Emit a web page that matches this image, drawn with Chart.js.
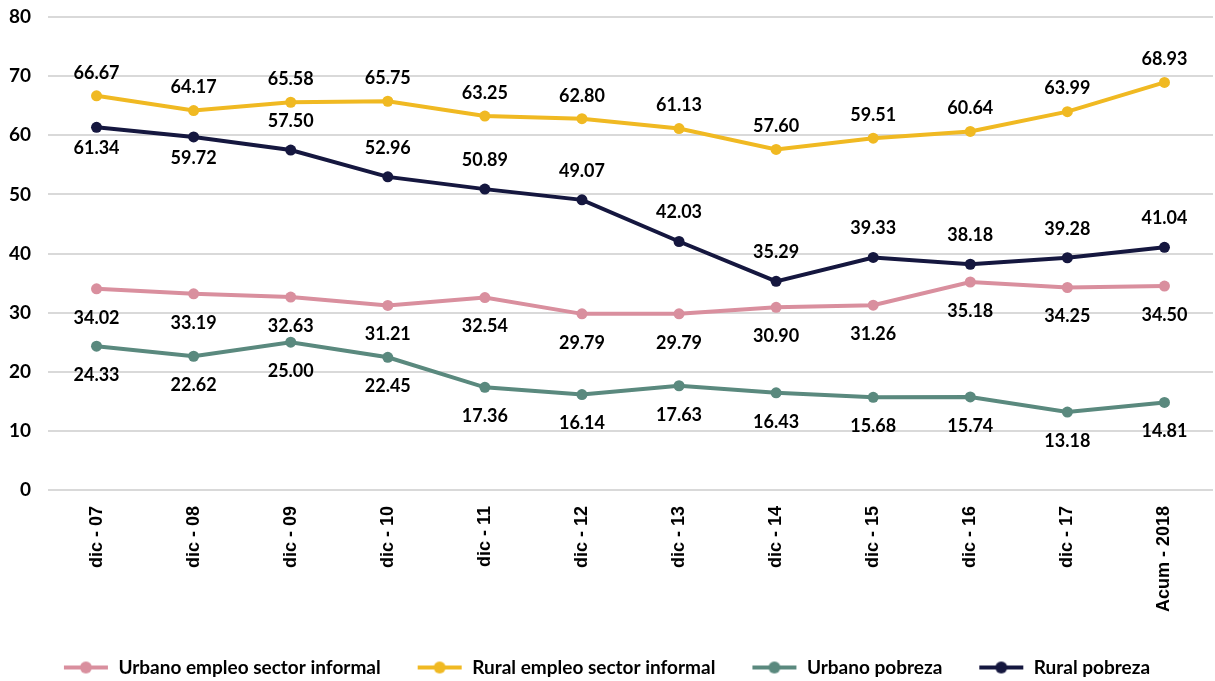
<!DOCTYPE html>
<html>
<head>
<meta charset="utf-8">
<script src="https://cdn.jsdelivr.net/npm/chart.js@4/dist/chart.umd.min.js"></script>
<style>
  html, body { margin: 0; padding: 0; background: #fff; }
  .grafico { width: 1215px; height: 681px; }
</style>
</head>
<body>
<div class="grafico"><canvas id="myChart"></canvas></div>
<script>
const categorias = ["dic - 07", "dic - 08", "dic - 09", "dic - 10", "dic - 11", "dic - 12", "dic - 13", "dic - 14", "dic - 15", "dic - 16", "dic - 17", "Acum - 2018"]
const urbanoEmpleo = [34.02, 33.19, 32.63, 31.21, 32.54, 29.79, 29.79, 30.90, 31.26, 35.18, 34.25, 34.50]
const ruralEmpleo = [66.67, 64.17, 65.58, 65.75, 63.25, 62.80, 61.13, 57.60, 59.51, 60.64, 63.99, 68.93]
const urbanoPobreza = [24.33, 22.62, 25.00, 22.45, 17.36, 16.14, 17.63, 16.43, 15.68, 15.74, 13.18, 14.81]
const ruralPobreza = [61.34, 59.72, 57.50, 52.96, 50.89, 49.07, 42.03, 35.29, 39.33, 38.18, 39.28, 41.04]
const ticksY = [0, 10, 20, 30, 40, 50, 60, 70, 80]

const fuente = "Lato, 'Open Sans', sans-serif"

// marcador de leyenda: linea con punto en el centro
function marcador(color) {
    const c = document.createElement("canvas")
    c.width = 46
    c.height = 14
    const ctx = c.getContext("2d")
    ctx.strokeStyle = color
    ctx.lineWidth = 4
    ctx.beginPath()
    ctx.moveTo(1, 7)
    ctx.lineTo(45, 7)
    ctx.stroke()
    ctx.fillStyle = color
    ctx.beginPath()
    ctx.arc(23, 7, 6, 0, Math.PI * 2)
    ctx.fill()
    return c
}

function serie(label, data, color, posicion) {
    return {
        label,
        data,
        borderColor: color,
        backgroundColor: color,
        borderWidth: 4,
        pointRadius: 5.5,
        pointHoverRadius: 5.5,
        pointBorderWidth: 0,
        tension: 0,
        posicion,
        pointStyle: "circle",
        marcador: marcador(color)
    }
}

// etiquetas de datos (arriba / abajo del punto)
const etiquetas = {
    id: "etiquetas",
    afterDatasetsDraw(chart) {
        const ctx = chart.ctx
        ctx.save()
        ctx.font = "bold 18px " + fuente
        ctx.fillStyle = "#000"
        ctx.textAlign = "center"
        ctx.textBaseline = "middle"
        chart.data.datasets.forEach((ds, i) => {
            const meta = chart.getDatasetMeta(i)
            meta.data.forEach((p, j) => {
                const off = ds.posicion(j)
                ctx.fillText(ds.data[j].toFixed(2), p.x, p.y + off)
            })
        })
        ctx.restore()
    }
}

const datasets = [
    serie("Urbano empleo sector informal", urbanoEmpleo, "#D98F9E", () => 29),
    serie("Rural empleo sector informal", ruralEmpleo, "#F0B922", () => -23),
    serie("Urbano pobreza", urbanoPobreza, "#5A897E", () => 29),
    serie("Rural pobreza", ruralPobreza, "#15173F", (j) => (j < 2 ? 21 : -29))
]

const config = {
    type: "line",
    data: { labels: categorias, datasets },
    plugins: [etiquetas],
    options: {
        responsive: true,
        maintainAspectRatio: false,
        animation: false,
        events: [],
        layout: { autoPadding: false, padding: { top: 17, right: 2, left: 0, bottom: -6 } },
        scales: {
            x: {
                offset: true,
                grid: { display: false, offset: true },
                border: { display: false },
                ticks: {
                    color: "#000",
                    font: { family: "'Liberation Sans', Arial, sans-serif", size: 18, weight: "bold" },
                    minRotation: 90,
                    maxRotation: 90,
                    padding: 8
                },
                afterFit(scale) {
                    scale.height = 132
                    scale.paddingLeft = 0
                    scale.paddingRight = 0
                }
            },
            y: {
                min: 0,
                max: 80,
                afterBuildTicks(scale) { scale.ticks = ticksY.map(v => ({ value: v })) },
                grid: { color: "#D9D9D9", lineWidth: 2, drawTicks: false },
                border: { display: false },
                ticks: {
                    color: "#000",
                    font: { family: fuente, size: 19, weight: "bold" },
                    padding: 17
                },
                afterFit(scale) {
                    scale.width = 48
                    scale.paddingTop = 0
                    scale.paddingBottom = 0
                }
            }
        },
        plugins: {
            tooltip: { enabled: false },
            legend: {
                position: "bottom",
                labels: {
                    color: "#000",
                    font: { family: fuente, size: 19, weight: "bold" },
                    usePointStyle: true,
                    pointStyleWidth: 46,
                    boxHeight: 14,
                    padding: 36,
                    generateLabels(chart) {
                        return chart.data.datasets.map((ds, i) => ({
                            text: ds.label,
                            pointStyle: ds.marcador,
                            fillStyle: ds.borderColor,
                            strokeStyle: ds.borderColor,
                            lineWidth: 0,
                            fontColor: "#000",
                            hidden: false,
                            datasetIndex: i
                        }))
                    }
                }
            }
        }
    }
}

new Chart(document.querySelector("#myChart"), config)
</script>
</body>
</html>
